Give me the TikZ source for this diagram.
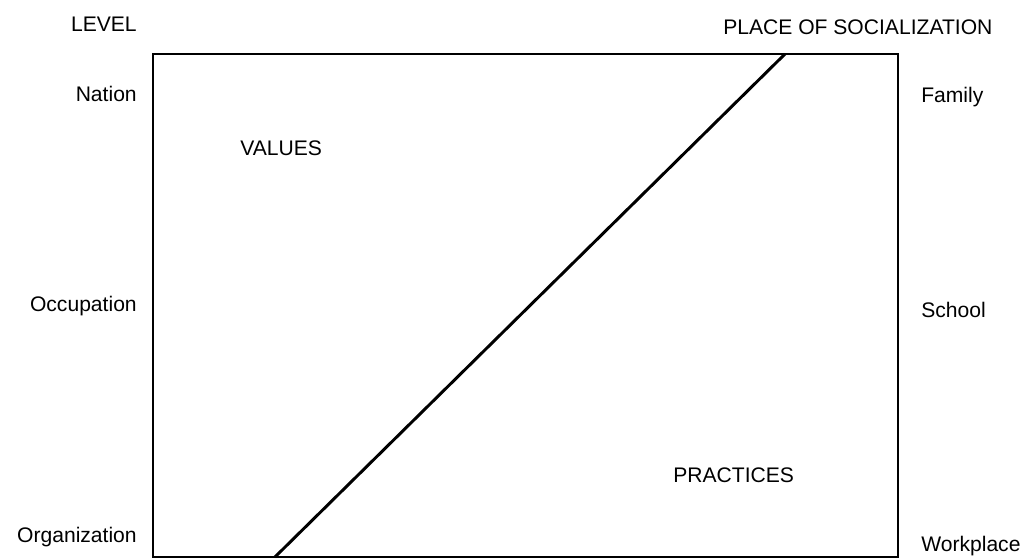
\documentclass[tikz,border=0pt]{standalone}
\usepackage{fontspec}
\setmainfont{Liberation Sans}
\usetikzlibrary{calc}
\tikzset{
  frm/.style={draw, line width=2.1pt},
  diag/.style={draw, line width=2.1pt},
  lvl/.style={anchor=base east, inner sep=0pt, font=\fontsize{15}{18}\selectfont},
  plc/.style={anchor=base west, inner sep=0pt, font=\fontsize{15}{18}\selectfont},
  area/.style={anchor=base west, inner sep=0pt, font=\fontsize{15}{18}\selectfont},
}
\begin{document}
\begin{tikzpicture}

\useasboundingbox (0,0) rectangle (25.675,13.975);

% Frame
\coordinate (bl) at (3.825,0.05);
\coordinate (tr) at (22.45,12.625);
\draw[frm] (bl) rectangle (tr);

% Dividing line
\coordinate (lo) at (6.875,0.05);
\coordinate (hi) at (19.625,12.625);
\draw[diag] (lo) -- (hi);

% Level labels
\node[lvl] (level) at (3.425,13.175) {LEVEL};
\node[lvl] (nation) at (3.425,11.425) {Nation};
\node[lvl] (occup) at (3.425,6.175) {Occupation};
\node[lvl] (organ) at (3.425,0.4) {Organization};

% Place labels
\node[plc] (place) at (18.075,13.1) {PLACE OF SOCIALIZATION};
\node[plc] (family) at (23.025,11.4) {Family};
\node[plc] (school) at (23.025,6.025) {School};
\node[plc] (work) at (23.025,0.175) {Workplace};

% Areas
\node[area] (values) at (6.0,10.075) {VALUES};
\node[area] (pract) at (16.825,1.9) {PRACTICES};

\end{tikzpicture}
\end{document}
